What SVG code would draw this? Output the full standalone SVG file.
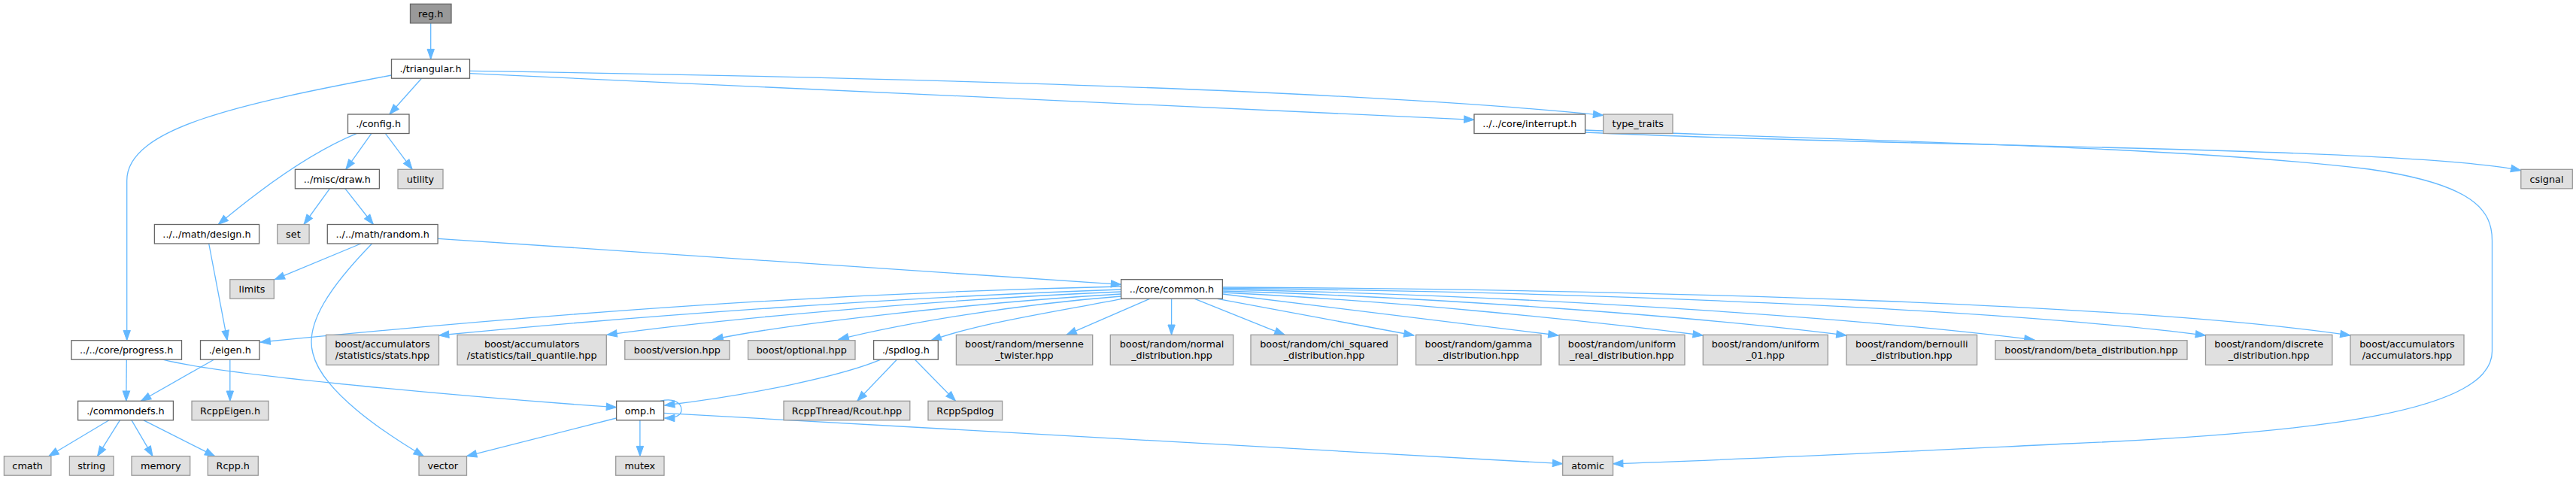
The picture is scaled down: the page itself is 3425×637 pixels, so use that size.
<svg xmlns="http://www.w3.org/2000/svg" width="3425" height="637" viewBox="0 0 3425 637">
<defs>
<style>
.w rect{fill:#ffffff;stroke:#666666;stroke-width:1.3}
.g rect{fill:#e0e0e0;stroke:#999999;stroke-width:1.3}
.r rect{fill:#999999;stroke:#666666;stroke-width:1.3}
text{font-family:"DejaVu Sans",sans-serif;font-size:12.8px;fill:#000000;text-anchor:middle}
#edges path{fill:none;stroke:#63b8ff;stroke-width:1.3;marker-end:url(#ah)}
</style>
<marker id="ah" markerUnits="userSpaceOnUse" markerWidth="15" markerHeight="11" refX="13.3" refY="4.7" orient="auto" overflow="visible">
<path d="M0,0 L13.3,4.7 L0,9.4 z" fill="#63b8ff" stroke="#63b8ff" stroke-width="1"/>
</marker>
</defs>
<rect width="3425" height="637" fill="#ffffff"/>
<g id="edges">
<path d="M572.7,31 L572.7,78.7"/>
<path d="M560.7,104 L517.9,152"/>
<path d="M520.5,100 C320,138 168.7,170 168.7,240 L168.7,452.7"/>
<path d="M624.5,97.7 L1960,159.3"/>
<path d="M624.5,94.3 C1200,103 1800,120 2131.7,153.3"/>
<path d="M474,177.7 C420,200 360,240 290.2,298.5"/>
<path d="M493.8,177.7 L459.8,225.3"/>
<path d="M512.5,177.7 L548.2,225.3"/>
<path d="M438.4,250.8 L404,298.5"/>
<path d="M458.9,250.8 L496.4,298.5"/>
<path d="M277.7,324 L302.2,452.7"/>
<path d="M479.9,324 L365.2,371.7"/>
<path d="M494.6,324 C440,380 405,430 416,470 C428,520 510,575 563.4,606.7"/>
<path d="M582.1,317.3 L1490.6,378.3"/>
<path d="M2107.6,176 C2500,195 3200,195 3351.8,226.7"/>
<path d="M2107.6,173 C2500,188 2900,195 3150,225 C3290,245 3313.5,280 3313.5,320 L3313.5,467 C3313.5,545 3100,575 2750,590 C2500,602 2300,612 2144.6,616.7"/>
<path d="M1490.6,381 C1100,390 750,415 346,455"/>
<path d="M1490.6,385 C1200,395 850,420 583.5,446"/>
<path d="M1490.6,388 C1250,398 950,425 807,445.3"/>
<path d="M1490.6,391 C1300,402 1050,430 948,451.5"/>
<path d="M1490.6,394 C1350,405 1200,430 1115,451.5"/>
<path d="M1492,397.3 C1400,415 1300,430 1238,452.7"/>
<path d="M1528.6,397.3 L1418,445.3"/>
<path d="M1557.6,397.3 L1557.6,445.3"/>
<path d="M1588.4,397.3 L1708,445.3"/>
<path d="M1618.7,397.3 L1880,446"/>
<path d="M1625.4,391 C1750,405 1900,425 2072,446"/>
<path d="M1625.4,389 C1850,400 2100,425 2264.3,446"/>
<path d="M1625.4,387 C1900,395 2250,420 2455,446"/>
<path d="M1625.4,385 C2000,392 2450,420 2705,452"/>
<path d="M1625.4,383.5 C2100,388 2650,410 2932.5,446"/>
<path d="M1625.4,382 C2200,385 2850,405 3125,446"/>
<path d="M168.3,478.2 L167.8,533.3"/>
<path d="M216.5,478.2 C300,500 650,530 819.6,541.7"/>
<path d="M284.4,478.2 L187.5,533.3"/>
<path d="M305.8,478.2 L305.8,533.3"/>
<path d="M1171,478.2 C1120,500 1000,525 883.6,539"/>
<path d="M1192.4,478.2 L1139.7,533.3"/>
<path d="M1216.5,478.2 L1270.5,533.3"/>
<path d="M878,533.3 C895,529 906,535 906,545 C906,553 898,556 883.6,556"/>
<path d="M819.6,556 L620.5,606.7"/>
<path d="M850.9,558.8 L850.9,606.7"/>
<path d="M882.6,549.3 L2077.7,616.7"/>
<path d="M145,558.8 L64.7,606.7"/>
<path d="M159.4,558.8 L129.5,606.7"/>
<path d="M175,558.8 L203,606.7"/>
<path d="M191,558.8 L285.7,606.7"/>
</g>
<g id="reg_h" class="r"><rect x="545.5" y="5.3" width="54.5" height="25.5"/><text x="572.7" y="22.5">reg.h</text></g>
<g id="triangular_h" class="w"><rect x="520.5" y="78.7" width="104" height="25.5"/><text x="572.5" y="95.9">./triangular.h</text></g>
<g id="config_h" class="w"><rect x="462.5" y="152" width="81.5" height="25.5"/><text x="503.2" y="169.2">./config.h</text></g>
<g id="interrupt_h" class="w"><rect x="1960" y="152" width="147.6" height="25.5"/><text x="2033.8" y="169.2">../../core/interrupt.h</text></g>
<g id="type_traits" class="g"><rect x="2131.7" y="152" width="92.3" height="25.5"/><text x="2177.8" y="169.2">type_traits</text></g>
<g id="draw_h" class="w"><rect x="392.4" y="225.3" width="112" height="25.5"/><text x="448.4" y="242.5">../misc/draw.h</text></g>
<g id="utility" class="g"><rect x="529" y="225.3" width="60" height="25.5"/><text x="559" y="242.5">utility</text></g>
<g id="csignal" class="g"><rect x="3351.8" y="225.3" width="68.5" height="25.5"/><text x="3386" y="242.5">csignal</text></g>
<g id="design_h" class="w"><rect x="205.4" y="298.5" width="139.2" height="25.5"/><text x="275" y="315.7">../../math/design.h</text></g>
<g id="set" class="g"><rect x="368.7" y="298.5" width="42.4" height="25.5"/><text x="389.9" y="315.7">set</text></g>
<g id="random_h" class="w"><rect x="435.3" y="298.5" width="146.8" height="25.5"/><text x="508.7" y="315.7">../../math/random.h</text></g>
<g id="limits" class="g"><rect x="305.8" y="371.7" width="58.5" height="25.5"/><text x="335" y="388.9">limits</text></g>
<g id="common_h" class="w"><rect x="1490.6" y="371.7" width="134.8" height="25.5"/><text x="1558" y="388.9">../core/common.h</text></g>
<g id="progress_h" class="w"><rect x="95" y="452.7" width="146.5" height="25.5"/><text x="168.2" y="469.9">../../core/progress.h</text></g>
<g id="eigen_h" class="w"><rect x="266.5" y="452.7" width="78.5" height="25.5"/><text x="305.8" y="469.9">./eigen.h</text></g>
<g id="stats_hpp" class="g"><rect x="433.5" y="445.3" width="150" height="40"/><text x="508.5" y="461.8">boost/accumulators</text><text x="508.5" y="476.8">/statistics/stats.hpp</text></g>
<g id="tail_quantile_hpp" class="g"><rect x="608" y="445.3" width="198.3" height="40"/><text x="707.2" y="461.8">boost/accumulators</text><text x="707.2" y="476.8">/statistics/tail_quantile.hpp</text></g>
<g id="version_hpp" class="g"><rect x="830.8" y="452.7" width="139.2" height="25.5"/><text x="900.4" y="469.9">boost/version.hpp</text></g>
<g id="optional_hpp" class="g"><rect x="994.6" y="452.7" width="142.4" height="25.5"/><text x="1065.8" y="469.9">boost/optional.hpp</text></g>
<g id="spdlog_h" class="w"><rect x="1161.6" y="452.7" width="85.7" height="25.5"/><text x="1204.4" y="469.9">./spdlog.h</text></g>
<g id="mersenne_twister_hpp" class="g"><rect x="1271.4" y="445.3" width="181.3" height="40"/><text x="1362" y="461.8">boost/random/mersenne</text><text x="1362" y="476.8">_twister.hpp</text></g>
<g id="normal_distribution_hpp" class="g"><rect x="1476.3" y="445.3" width="163.4" height="40"/><text x="1558" y="461.8">boost/random/normal</text><text x="1558" y="476.8">_distribution.hpp</text></g>
<g id="chi_squared_distribution_hpp" class="g"><rect x="1663" y="445.3" width="195" height="40"/><text x="1760.5" y="461.8">boost/random/chi_squared</text><text x="1760.5" y="476.8">_distribution.hpp</text></g>
<g id="gamma_distribution_hpp" class="g"><rect x="1882.6" y="445.3" width="166.4" height="40"/><text x="1965.8" y="461.8">boost/random/gamma</text><text x="1965.8" y="476.8">_distribution.hpp</text></g>
<g id="uniform_real_distribution_hpp" class="g"><rect x="2073" y="445.3" width="167" height="40"/><text x="2156.5" y="461.8">boost/random/uniform</text><text x="2156.5" y="476.8">_real_distribution.hpp</text></g>
<g id="uniform_01_hpp" class="g"><rect x="2264.3" y="445.3" width="166" height="40"/><text x="2347.3" y="461.8">boost/random/uniform</text><text x="2347.3" y="476.8">_01.hpp</text></g>
<g id="bernoulli_distribution_hpp" class="g"><rect x="2455" y="445.3" width="173.6" height="40"/><text x="2541.8" y="461.8">boost/random/bernoulli</text><text x="2541.8" y="476.8">_distribution.hpp</text></g>
<g id="beta_distribution_hpp" class="g"><rect x="2653" y="452.7" width="255" height="25.5"/><text x="2780.5" y="469.9">boost/random/beta_distribution.hpp</text></g>
<g id="discrete_distribution_hpp" class="g"><rect x="2932.5" y="445.3" width="168.4" height="40"/><text x="3016.7" y="461.8">boost/random/discrete</text><text x="3016.7" y="476.8">_distribution.hpp</text></g>
<g id="accumulators_hpp" class="g"><rect x="3125" y="445.3" width="151" height="40"/><text x="3200.5" y="461.8">boost/accumulators</text><text x="3200.5" y="476.8">/accumulators.hpp</text></g>
<g id="commondefs_h" class="w"><rect x="103.6" y="533.3" width="126.8" height="25.5"/><text x="167" y="550.5">./commondefs.h</text></g>
<g id="RcppEigen_h" class="g"><rect x="255" y="533.3" width="102" height="25.5"/><text x="306" y="550.5">RcppEigen.h</text></g>
<g id="omp_h" class="w"><rect x="819.6" y="533.3" width="63" height="25.5"/><text x="851.1" y="550.5">omp.h</text></g>
<g id="Rcout_hpp" class="g"><rect x="1042" y="533.3" width="167.8" height="25.5"/><text x="1125.9" y="550.5">RcppThread/Rcout.hpp</text></g>
<g id="RcppSpdlog" class="g"><rect x="1234" y="533.3" width="98.6" height="25.5"/><text x="1283.3" y="550.5">RcppSpdlog</text></g>
<g id="cmath" class="g"><rect x="5.4" y="606.7" width="62.5" height="25.5"/><text x="36.6" y="623.9">cmath</text></g>
<g id="string" class="g"><rect x="92.4" y="606.7" width="58.6" height="25.5"/><text x="121.7" y="623.9">string</text></g>
<g id="memory" class="g"><rect x="175" y="606.7" width="77.7" height="25.5"/><text x="213.8" y="623.9">memory</text></g>
<g id="Rcpp_h" class="g"><rect x="276.3" y="606.7" width="67" height="25.5"/><text x="309.8" y="623.9">Rcpp.h</text></g>
<g id="vector" class="g"><rect x="557" y="606.7" width="63.5" height="25.5"/><text x="588.7" y="623.9">vector</text></g>
<g id="mutex" class="g"><rect x="818.7" y="606.7" width="64.3" height="25.5"/><text x="850.8" y="623.9">mutex</text></g>
<g id="atomic" class="g"><rect x="2077.7" y="606.7" width="66.9" height="25.5"/><text x="2111.1" y="623.9">atomic</text></g>
</svg>
